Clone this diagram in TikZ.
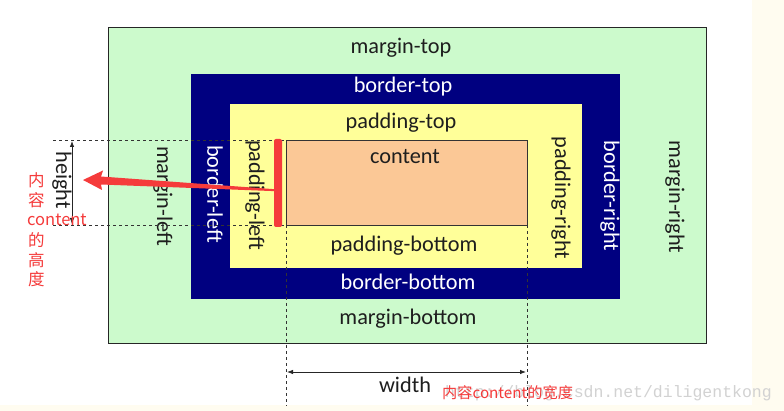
\documentclass[tikz,border=0pt]{standalone}
\usepackage{fontspec}
\setmainfont{Carlito}
\newfontfamily\cjk{Noto Sans CJK SC}
\newfontfamily\wmfont{Liberation Mono}
\usetikzlibrary{arrows.meta}
\definecolor{marginc}{HTML}{CCFACC}
\definecolor{borderc}{HTML}{000080}
\definecolor{paddingc}{HTML}{FFFF99}
\definecolor{contentc}{HTML}{FBC896}
\definecolor{redc}{HTML}{F53B3B}
\definecolor{creamc}{HTML}{FFFCF0}
\definecolor{textc}{HTML}{1E1E1E}
\definecolor{wmc}{HTML}{D2D2D2}
\tikzset{
  lbl/.style={font=\fontsize{22.3}{24}\selectfont, text=textc, inner sep=0pt},
  wlbl/.style={lbl, text=white},
  vlbl/.style={lbl, rotate=-90},
  wvlbl/.style={wlbl, rotate=-90},
  guide/.style={draw=black!80, line width=0.7pt, dash pattern=on 3pt off 3pt},
  dim/.style={draw=black!85, line width=0.8pt, {Latex[length=6pt,width=4.5pt]}-{Latex[length=6pt,width=4.5pt]}},
  redtxt/.style={text=redc, inner sep=0pt},
}
\begin{document}
\begin{tikzpicture}[x=1pt,y=-1pt]
\useasboundingbox (0,0) rectangle (784,411);
\fill[creamc] (0,0) rectangle (784,411);
\fill[white] (0,0) rectangle (752,405);
% boxes
\draw[fill=marginc, draw=black!85, line width=0.8pt] (108,27) rectangle (706,343);
\fill[borderc] (191,74) rectangle (620,299);
\fill[paddingc] (230,104) rectangle (582,268);
\draw[fill=contentc, draw=black!80, line width=0.7pt] (286,140) rectangle (527,225);
% labels
\node[lbl] (mt) at (401,48) {margin-top};
\node[wlbl] (bt) at (403,87) {border-top};
\node[lbl] (pt) at (401,123) {padding-top};
\node[lbl] (ct) at (405,157) {content};
\node[lbl] (pb) at (404,246) {padding-bottom};
\node[wlbl] (bb) at (408,282) {border-bottom};
\node[lbl] (mb) at (408,319) {margin-bottom};
\node[vlbl] (ml) at (163,196) {margin-left};
\node[wvlbl] (bl) at (215,194) {border-left};
\node[vlbl] (pl) at (255,195) {padding-left};
\node[vlbl] (pr) at (561,198) {padding-right};
\node[wvlbl] (br) at (610,196) {border-right};
\node[vlbl] (mr) at (675,197) {margin-right};
% guides
\coordinate (g1a) at (53,140); \coordinate (g1b) at (286,140);
\coordinate (g2a) at (53,225); \coordinate (g2b) at (286,225);
\coordinate (g3a) at (286,225); \coordinate (g3b) at (286,406);
\coordinate (g4a) at (527,225); \coordinate (g4b) at (527,406);
\draw[guide] (g1a) -- (g1b);
\draw[guide] (g2a) -- (g2b);
\draw[guide] (g3a) -- (g3b);
\draw[guide] (g4a) -- (g4b);
% dimensions
\coordinate (h1) at (72,141); \coordinate (h2) at (72,224);
\draw[dim] (h1) -- (h2);
\node[vlbl] (ht) at (62,180) {height};
\coordinate (w1) at (287,372); \coordinate (w2) at (526,372);
\draw[dim] (w1) -- (w2);
\node[lbl] (wt) at (405,385) {width};
% watermark
\node[anchor=east, inner sep=0pt, text=wmc, font=\wmfont\fontsize{16.5}{18}\selectfont] (wm) at (772,393) {http://blog.csdn.net/diligentkong};
% red annotations
\fill[redc, rounded corners=2pt] (274,139) rectangle (282,227);
\fill[redc] (83,180) -- (103,170.5) -- (101,176.5) -- (276,189.3) -- (276,191.2) -- (101,184.5) -- (102,190) -- cycle;
\begin{scope}[every node/.style={redtxt, anchor=west, font=\cjk\fontsize{16.5}{18}\selectfont}]
\node (r1) at (28,180) {内};
\node (r2) at (28,200) {容};
\node (r3) at (27,220) {content};
\node (r4) at (28,240) {的};
\node (r5) at (28,260) {高};
\node (r6) at (28,279) {度};
\end{scope}
\node[redtxt, anchor=west, font=\cjk\fontsize{15.2}{17}\selectfont] (rw) at (442,393) {内容content的宽度};
\end{tikzpicture}
\end{document}
